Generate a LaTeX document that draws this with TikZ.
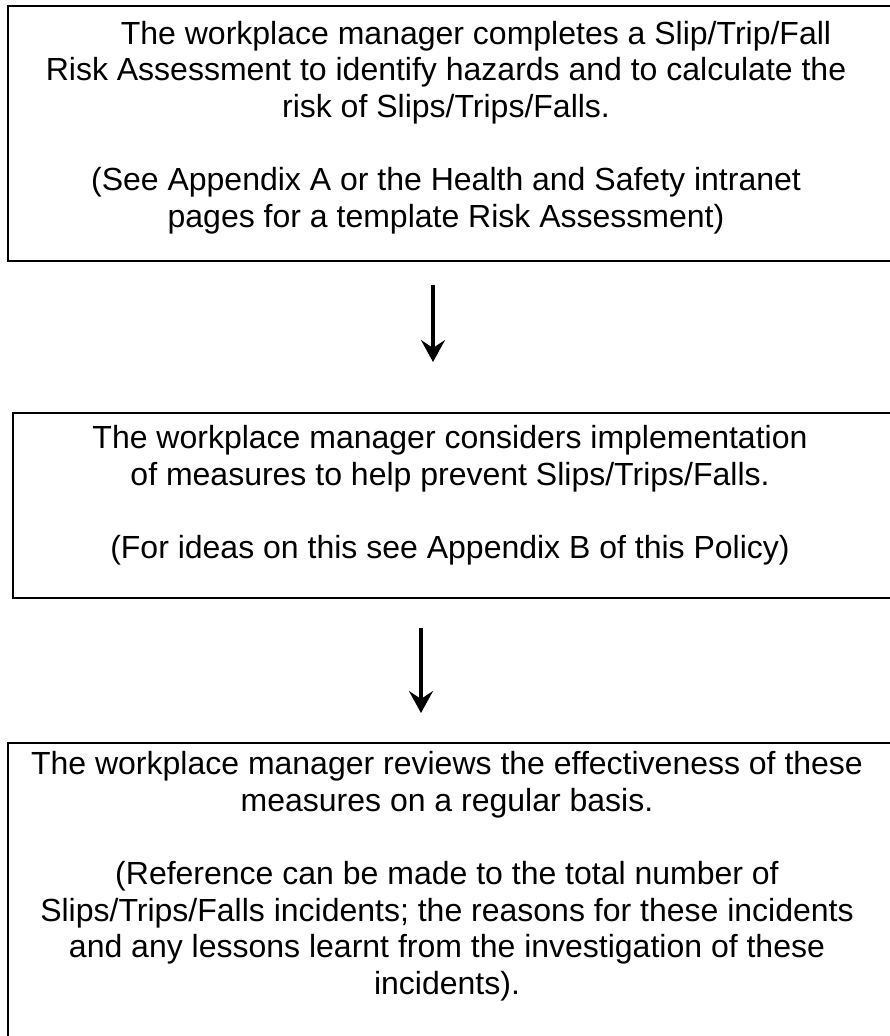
\documentclass[tikz,border=0pt]{standalone}
\usepackage{fontspec}
\setmainfont{Liberation Sans}
\usetikzlibrary{arrows.meta}
\tikzset{
  box/.style={draw, line width=2.7pt, rectangle, inner sep=0pt, outer sep=0pt},
  txt/.style={anchor=north, align=center, inner sep=0pt,
    font=\fontsize{32}{36.6}\selectfont, execute at begin node=\strut},
  arr/.style={line width=3.2pt, -{Stealth[length=22pt,width=24pt,inset=8pt]}}
}
\begin{document}
\begin{tikzpicture}[x=1pt,y=-1pt]
\clip (0,0) rectangle (890,1036);
\fill[white] (0,0) rectangle (890,1036);
% boxes
\node[box, minimum width=888pt, minimum height=255pt] (b1) at (452,133.5) {};
\node[box, minimum width=883pt, minimum height=185pt] (b2) at (454.5,505.5) {};
\node[box, minimum width=888pt, minimum height=307pt] (b3) at (452,896.5) {};
% texts
\node[txt] (t1) at (446,21) {\hspace*{60pt}The workplace manager completes a Slip/Trip/Fall\\Risk Assessment to identify hazards and to calculate the\\risk of Slips/Trips/Falls.\\[36.6pt](See Appendix A or the Health and Safety intranet\\pages for a template Risk Assessment)};
\node[txt] (t2) at (450,425.4) {The workplace manager considers implementation\\of measures to help prevent Slips/Trips/Falls.\\[36.6pt](For ideas on this see Appendix B of this Policy)};
\node[txt] (t3) at (447,751.4) {The workplace manager reviews the effectiveness of these\\measures on a regular basis.\\[36.6pt](Reference can be made to the total number of\\Slips/Trips/Falls incidents; the reasons for these incidents\\and any lessons learnt from the investigation of these\\incidents).};
% arrows
\coordinate (a1s) at (433,285);
\coordinate (a1e) at (433,362);
\coordinate (a2s) at (421,628);
\coordinate (a2e) at (421,713);
\draw[arr] (a1s) -- (a1e);
\draw[arr] (a2s) -- (a2e);
\end{tikzpicture}
\end{document}
